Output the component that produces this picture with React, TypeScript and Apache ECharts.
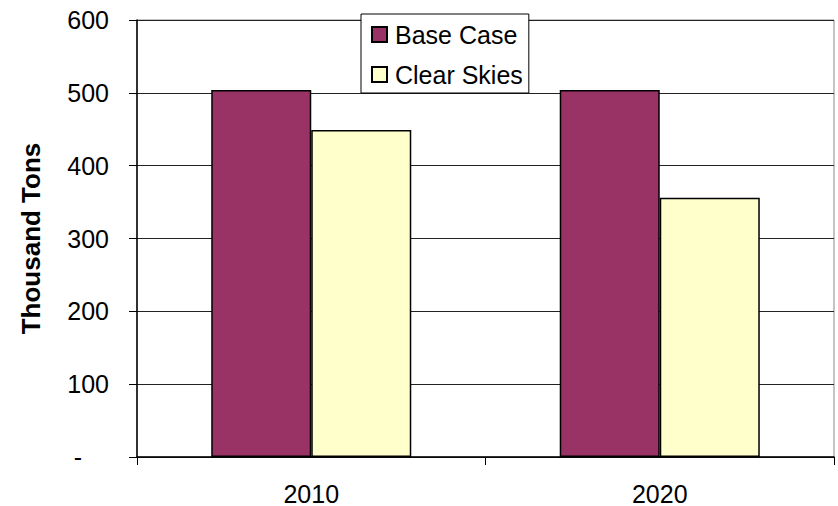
import React, { useEffect, useRef } from "react";
import * as echarts from "echarts";

// Emissions by scenario, thousand tons
const years = ["2010", "2020"];
const baseCase = [504, 504];
const clearSkies = [449, 356];
const yTicks = [0, 100, 200, 300, 400, 500, 600];

const FONT = "'Liberation Sans', Arial, sans-serif";

export default function App() {
  const ref = useRef<HTMLDivElement>(null);

  useEffect(() => {
    if (!ref.current) return;
    const chart = echarts.init(ref.current, undefined, { renderer: "svg" });
    const barBorder = { borderColor: "#000", borderWidth: 1.5 };
    chart.setOption({
      animation: false,
      backgroundColor: "#fff",
      textStyle: { fontFamily: FONT },
      grid: {
        left: 137,
        right: 4,
        top: 20,
        bottom: 48,
        show: true,
        borderColor: "#8a8a8a",
        borderWidth: 1,
        backgroundColor: "transparent",
      },
      legend: {
        orient: "vertical",
        left: 361,
        top: 14,
        padding: [8, 6, 6, 10],
        itemWidth: 15,
        itemHeight: 15,
        itemGap: 15,
        icon: "rect",
        backgroundColor: "#fff",
        borderColor: "#000",
        borderWidth: 1,
        textStyle: {
          fontFamily: FONT,
          fontSize: 25,
          color: "#000",
          lineHeight: 25,
          padding: [0, 0, 0, 3],
        },
        data: ["Base Case", "Clear Skies"],
      },
      xAxis: {
        type: "category",
        data: years,
        boundaryGap: true,
        axisLine: { lineStyle: { color: "#000", width: 1.5 } },
        axisTick: { show: true, length: 8, lineStyle: { color: "#000", width: 1 } },
        axisLabel: { fontFamily: FONT, fontSize: 25, color: "#000", margin: 24 },
        splitLine: { show: false },
      },
      yAxis: {
        type: "value",
        min: yTicks[0],
        max: yTicks[yTicks.length - 1],
        interval: 100,
        name: "Thousand Tons",
        nameLocation: "middle",
        nameGap: 93,
        nameTextStyle: { fontFamily: FONT, fontSize: 26, fontWeight: "bold", color: "#000" },
        axisLine: { show: true, lineStyle: { color: "#000", width: 1.5 } },
        axisTick: { show: true, length: 8, lineStyle: { color: "#000", width: 1 } },
        axisLabel: {
          fontFamily: FONT,
          fontSize: 25,
          color: "#000",
          margin: 28,
          formatter: (v: number) => (v === 0 ? "{d|-}" : String(v)),
          rich: {
            d: { fontFamily: FONT, fontSize: 25, color: "#000", padding: [0, 27, 0, 0] },
          },
        },
        splitLine: { show: true, lineStyle: { color: "#222", width: 1 } },
      },
      series: [
        {
          name: "Base Case",
          type: "bar",
          data: baseCase,
          barGap: "0%",
          barCategoryGap: "42.6%",
          itemStyle: { color: "#993366", ...barBorder },
        },
        {
          name: "Clear Skies",
          type: "bar",
          data: clearSkies,
          barGap: "0%",
          barCategoryGap: "42.6%",
          itemStyle: { color: "#FFFFCC", ...barBorder },
        },
      ],
    });
    return () => chart.dispose();
  }, []);

  return (
    <div
      ref={ref}
      style={{ position: "fixed", left: 0, top: 0, width: 838, height: 506 }}
    />
  );
}
